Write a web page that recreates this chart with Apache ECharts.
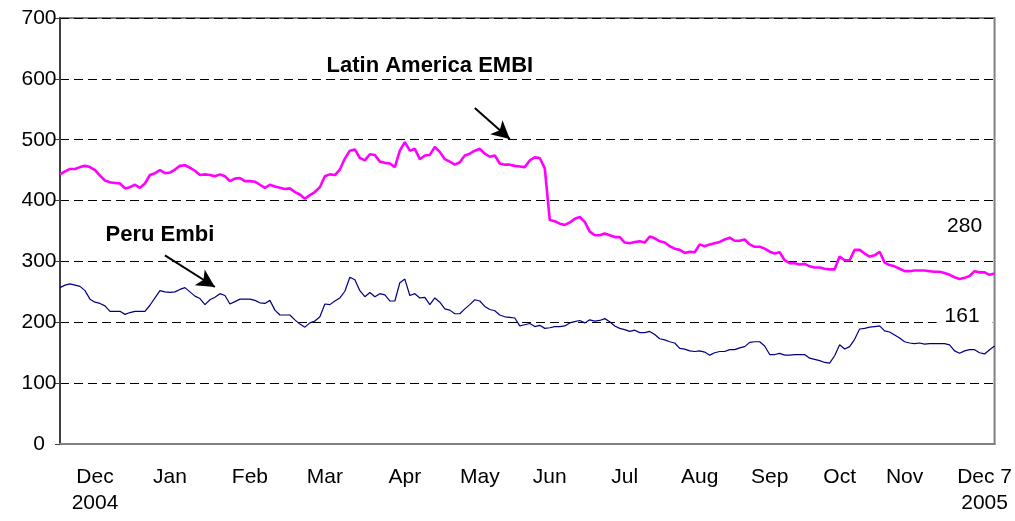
<!DOCTYPE html>
<html><head><meta charset="utf-8">
<script src="https://cdn.jsdelivr.net/npm/echarts@6/dist/echarts.min.js"></script>
<style>html,body{margin:0;padding:0;background:#fff}#c{width:1015px;height:521px}</style>
</head><body><div id="c"></div>
<script>
// Latin America EMBI spread (bp), sampled observations Dec 2004 - Dec 7 2005
const latinEmbi = [
443,448,452,452,455,457,455,450,441,433,
430,429,428,420,422,426,421,428,442,445,
450,445,446,451,457,458,454,449,442,443,
442,440,443,440,432,436,437,432,432,431,
426,421,426,423,421,419,420,414,410,403,
409,414,422,440,443,442,451,469,482,484,
470,466,476,475,464,462,461,455,482,496,
482,485,468,474,475,488,480,468,464,459,
463,474,477,482,485,477,472,474,461,459,
459,457,456,455,466,471,470,453,368,366,
362,360,364,370,373,365,349,343,343,346,
343,340,340,331,330,332,333,331,341,338,
333,331,325,321,319,314,316,315,328,325,
328,330,332,336,339,334,334,336,328,324,
324,321,316,313,315,302,297,297,295,296,
292,290,290,288,287,287,308,302,302,319,
319,313,308,310,316,298,294,292,288,284,
284,285,285,285,284,283,283,281,278,274,
271,273,276,284,282,282,278,280
];
// Peru EMBI spread (bp)
const peruEmbi = [
257,261,263,261,259,252,238,233,231,227,
218,218,218,213,216,218,218,218,228,240,
252,250,249,250,254,257,250,243,239,229,
237,241,247,244,230,234,238,238,238,236,
232,231,236,220,212,212,212,204,197,192,
199,202,209,230,229,235,240,251,274,270,
252,242,249,242,247,245,235,235,265,271,
244,247,240,241,229,240,233,222,220,214,
214,222,229,237,235,226,221,219,212,209,
208,207,194,196,198,193,195,190,191,193,
193,194,199,201,203,199,204,202,203,206,
201,194,190,188,185,187,183,183,185,180,
173,171,168,166,157,156,153,152,153,151,
146,150,152,152,155,155,158,160,167,168,
168,161,147,147,149,146,146,147,147,147,
141,139,137,134,133,145,163,156,160,172,
189,190,192,193,194,186,184,179,174,168,
166,165,166,164,165,165,165,165,163,153,
149,153,155,155,150,148,155,161
];
// month tick labels and the observation each one marks
const monthLabels = ['Dec\n2004','Jan','Feb','Mar','Apr','May','Jun','Jul','Aug','Sep','Oct','Nov','Dec 7\n2005'];
const monthObs = [7,22,38,53,69,84,98,113,128,142,156,169,185];
const yMin = 0, yMax = 700, yStep = 100;
const latinName = 'Latin America EMBI';
const peruName = 'Peru Embi';

const categories = latinEmbi.map((_, i) => {
  const k = monthObs.indexOf(i);
  return k >= 0 ? monthLabels[k] : '';
});
const last = latinEmbi.length - 1;
const FONT = 'Liberation Sans, Arial, sans-serif';

const chart = echarts.init(document.getElementById('c'), null, {renderer: 'canvas'});
chart.setOption({
  animation: false,
  backgroundColor: '#fff',
  grid: {left: 60, right: 20, top: 18, bottom: 77, show: true, borderColor: '#808080', borderWidth: 2, backgroundColor: 'transparent'},
  xAxis: {
    type: 'category', data: categories, boundaryGap: false,
    axisLine: {show: true, lineStyle: {color: '#808080', width: 2}},
    axisTick: {show: false},
    splitLine: {show: false},
    axisLabel: {
      interval: (idx, val) => val !== '',
      color: '#000', fontFamily: FONT, fontSize: 21, lineHeight: 26, margin: 20, align: 'center'
    }
  },
  yAxis: {
    type: 'value', min: yMin, max: yMax, interval: yStep,
    axisLine: {show: true, lineStyle: {color: '#404040', width: 2}},
    axisTick: {show: true, inside: false, length: 5, lineStyle: {color: '#404040', width: 1}},
    splitLine: {show: true, lineStyle: {color: '#000', width: 1, type: [9, 5]}},
    axisLabel: {color: '#000', fontFamily: FONT, fontSize: 21, margin: 21, align: 'center'}
  },
  series: [
    {
      name: peruName, type: 'line', data: peruEmbi, showSymbol: false, symbol: 'none',
      lineStyle: {color: '#000080', width: 1.2}, itemStyle: {color: '#000080'}, z: 3,
      markPoint: {
        symbol: 'circle', symbolSize: 0, silent: true,
        data: [
          {coord: [20, 343], label: {show: true, formatter: peruName, position: 'inside', color: '#000', fontFamily: FONT, fontSize: 22, fontWeight: 'bold'}},
          {coord: [last - 6, 210], label: {show: true, formatter: String(peruEmbi[last]), position: 'inside', color: '#000', fontFamily: FONT, fontSize: 21, backgroundColor: '#fff', padding: [2, 13, 2, 8]}}
        ]
      },
      markLine: {
        silent: true, symbol: ['none', 'arrow'], symbolSize: [14, 18],
        lineStyle: {color: '#000', width: 2, type: 'solid'}, label: {show: false},
        data: [[{coord: [21, 310]}, {coord: [31, 258]}]]
      }
    },
    {
      name: latinName, type: 'line', data: latinEmbi, showSymbol: false, symbol: 'none',
      lineStyle: {color: '#FF00FF', width: 2.6}, itemStyle: {color: '#FF00FF'}, z: 4,
      markPoint: {
        symbol: 'circle', symbolSize: 0, silent: true,
        data: [
          {coord: [74, 621], label: {show: true, formatter: latinName, position: 'inside', color: '#000', fontFamily: FONT, fontSize: 22, fontWeight: 'bold'}},
          {coord: [last - 6, 358], label: {show: true, formatter: String(latinEmbi[last]), position: 'inside', color: '#000', fontFamily: FONT, fontSize: 21}}
        ]
      },
      markLine: {
        silent: true, symbol: ['none', 'arrow'], symbolSize: [14, 18],
        lineStyle: {color: '#000', width: 2, type: 'solid'}, label: {show: false},
        data: [[{coord: [83, 552]}, {coord: [90, 501]}]]
      }
    }
  ]
});
</script></body></html>
